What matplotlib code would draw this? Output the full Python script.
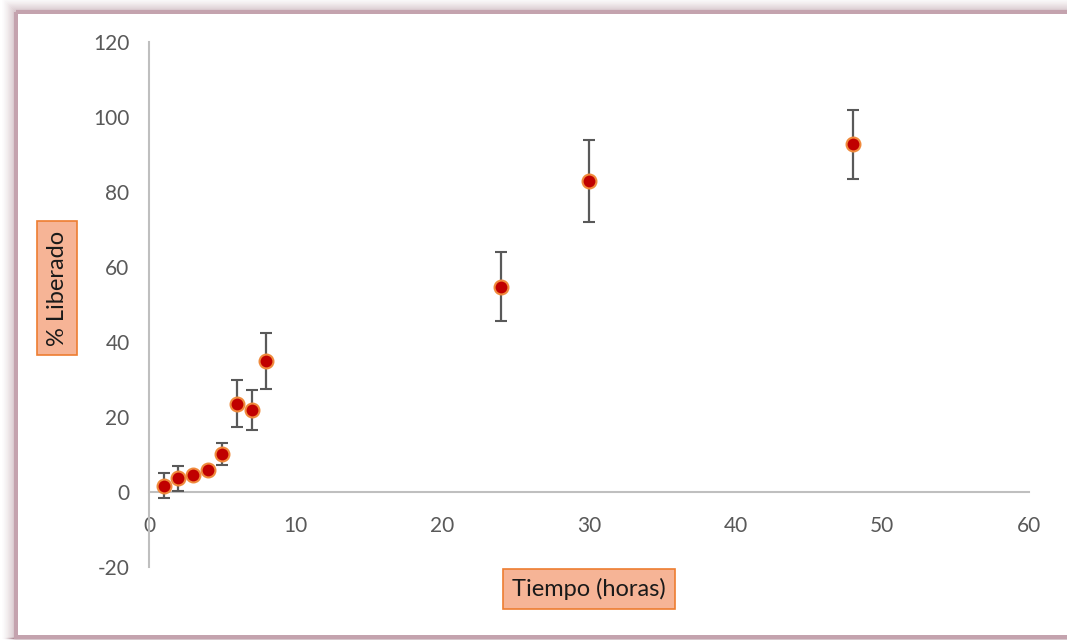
import matplotlib
import matplotlib.pyplot as plt
from matplotlib.patches import Rectangle

matplotlib.use("Agg")
matplotlib.rcParams["font.family"] = ["Lato", "DejaVu Sans"]
matplotlib.rcParams["axes.unicode_minus"] = False

# release data: time (h), % released and its standard deviation
tiempo = [1, 2, 3, 4, 5, 6, 7, 8, 24, 30, 48]
liberado = [1.7, 3.7, 4.5, 5.9, 10.2, 23.6, 21.8, 34.9, 54.7, 82.9, 92.8]
desv = [3.3, 3.3, 0.8, 0.8, 3.0, 6.3, 5.3, 7.4, 9.2, 11.0, 9.2]

x_ticks = [0, 10, 20, 30, 40, 50, 60]
y_ticks = [-20, 0, 20, 40, 60, 80, 100, 120]

W, H = 1067, 640
fig = plt.figure(figsize=(W / 100, H / 100), dpi=100, facecolor="white")

# soft mauve frame with a shadow on the left and top edges
frame = fig.add_axes([0, 0, 1, 1], zorder=-1)
frame.set_xlim(0, W)
frame.set_ylim(H, 0)
frame.axis("off")
for i in range(14):
    a = ((i + 1) / 14) ** 1.5 * 0.35
    frame.add_patch(Rectangle((2 + i, i - 2), W + 20, H - i, fill=False,
                              edgecolor="#a07884", linewidth=1, alpha=a))
frame.add_patch(Rectangle((16, 12), W + 20, H - 15, fill=False,
                          edgecolor="#c4a3ae", linewidth=3))
frame.add_patch(Rectangle((18, 14), W + 20, H - 19, facecolor="white",
                          edgecolor="none"))

ax = fig.add_axes([149 / W, 1 - 567 / H, 880 / W, 525 / H])
ax.set_facecolor("none")

ax.errorbar(tiempo, liberado, yerr=desv, fmt="o", color="#c00000",
            markersize=10, markeredgecolor="#f08a3c", markeredgewidth=1.5,
            ecolor="#595959", elinewidth=1.6, capsize=4.3, capthick=1.6,
            zorder=3)

ax.set_xlim(0, 60)
ax.set_ylim(-20, 120)
ax.set_xticks(x_ticks)
ax.set_yticks(y_ticks)

for side in ["top", "right"]:
    ax.spines[side].set_visible(False)
ax.spines["left"].set_position(("data", 0))
ax.spines["bottom"].set_position(("data", 0))
ax.spines["left"].set_color("#bfbfbf")
ax.spines["bottom"].set_color("#bfbfbf")
ax.spines["left"].set_linewidth(1.5)
ax.spines["bottom"].set_linewidth(1.5)

ax.tick_params(axis="x", length=0, pad=17, labelsize=15, labelcolor="#595959")
ax.tick_params(axis="y", length=0, pad=14, labelsize=15, labelcolor="#595959")

box = dict(boxstyle="square,pad=0.4", facecolor="#f6b496",
           edgecolor="#ed7d31", linewidth=1.2)
fig.text(589 / W, 1 - 589 / H, "Tiempo (horas)", ha="center", va="center",
         fontsize=17, color="#1a1a1a", bbox=box)
fig.text(57 / W, 1 - 288 / H, "% Liberado", ha="center", va="center",
         rotation=90, fontsize=17, color="#1a1a1a", bbox=box)

fig.savefig("out.png", dpi=100, facecolor="white")
